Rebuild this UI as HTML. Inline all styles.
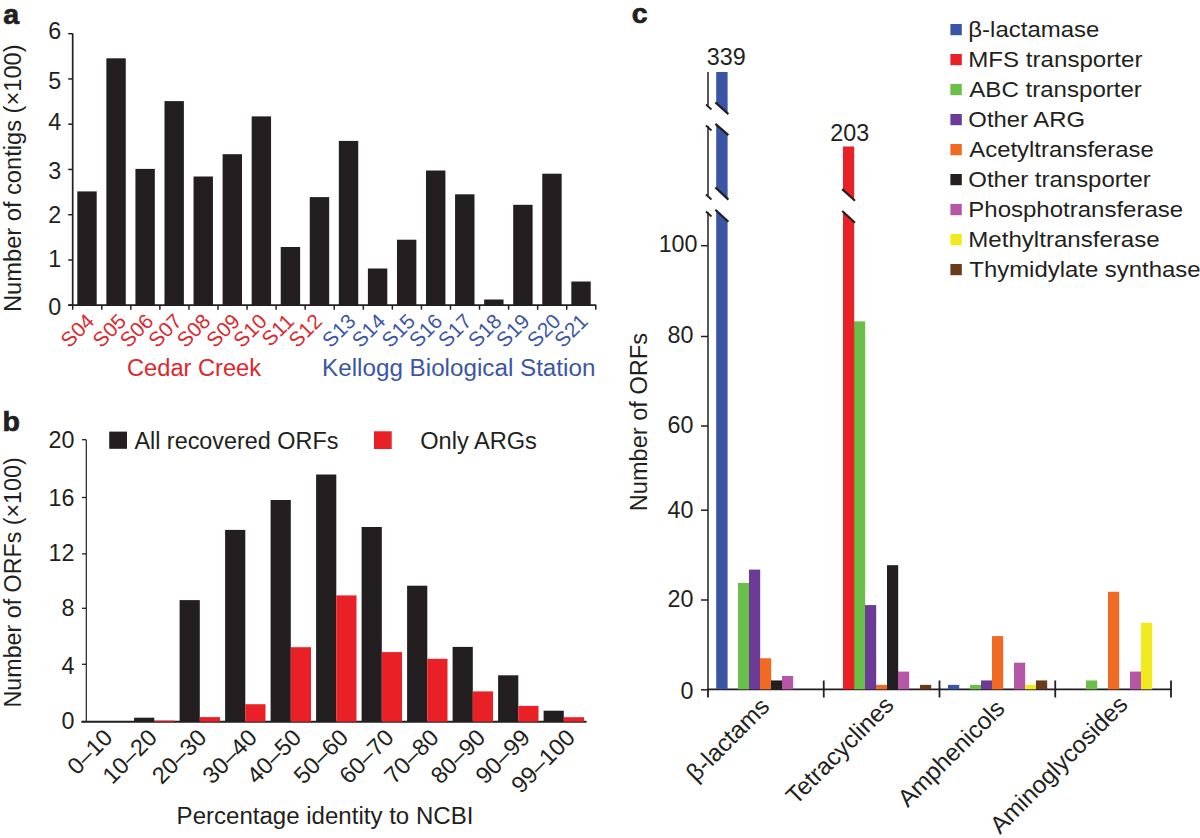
<!DOCTYPE html>
<html><head><meta charset="utf-8"><style>
html,body{margin:0;padding:0;background:#fff;}
svg{display:block;}
text{font-family:"Liberation Sans",sans-serif;}
</style></head><body>
<svg width="1200" height="838" viewBox="0 0 1200 838">
<rect width="1200" height="838" fill="#fff"/>
<text x="3.20" y="24.00" font-size="28.5" text-anchor="start" fill="#231f20" font-weight="bold" stroke="#231f20" stroke-width="0.7">a</text>
<line x1="72.70" y1="33.60" x2="72.70" y2="306.00" stroke="#231f20" stroke-width="1.7"/>
<line x1="68.20" y1="305.20" x2="72.70" y2="305.20" stroke="#231f20" stroke-width="1.5"/>
<text x="61.20" y="314.90" font-size="23.3" text-anchor="end" fill="#231f20">0</text>
<line x1="68.20" y1="259.95" x2="72.70" y2="259.95" stroke="#231f20" stroke-width="1.5"/>
<text x="61.20" y="267.05" font-size="23.3" text-anchor="end" fill="#231f20">1</text>
<line x1="68.20" y1="214.70" x2="72.70" y2="214.70" stroke="#231f20" stroke-width="1.5"/>
<text x="61.20" y="223.00" font-size="23.3" text-anchor="end" fill="#231f20">2</text>
<line x1="68.20" y1="169.45" x2="72.70" y2="169.45" stroke="#231f20" stroke-width="1.5"/>
<text x="61.20" y="179.15" font-size="23.3" text-anchor="end" fill="#231f20">3</text>
<line x1="68.20" y1="124.20" x2="72.70" y2="124.20" stroke="#231f20" stroke-width="1.5"/>
<text x="61.20" y="130.30" font-size="23.3" text-anchor="end" fill="#231f20">4</text>
<line x1="68.20" y1="78.95" x2="72.70" y2="78.95" stroke="#231f20" stroke-width="1.5"/>
<text x="61.20" y="88.85" font-size="23.3" text-anchor="end" fill="#231f20">5</text>
<line x1="68.20" y1="33.70" x2="72.70" y2="33.70" stroke="#231f20" stroke-width="1.5"/>
<text x="61.20" y="38.80" font-size="23.3" text-anchor="end" fill="#231f20">6</text>
<line x1="68.30" y1="305.20" x2="596.30" y2="305.20" stroke="#231f20" stroke-width="1.7"/>
<line x1="72.70" y1="305.20" x2="72.70" y2="309.70" stroke="#231f20" stroke-width="1.5"/>
<line x1="101.76" y1="305.20" x2="101.76" y2="309.70" stroke="#231f20" stroke-width="1.5"/>
<line x1="130.82" y1="305.20" x2="130.82" y2="309.70" stroke="#231f20" stroke-width="1.5"/>
<line x1="159.88" y1="305.20" x2="159.88" y2="309.70" stroke="#231f20" stroke-width="1.5"/>
<line x1="188.94" y1="305.20" x2="188.94" y2="309.70" stroke="#231f20" stroke-width="1.5"/>
<line x1="218.00" y1="305.20" x2="218.00" y2="309.70" stroke="#231f20" stroke-width="1.5"/>
<line x1="247.06" y1="305.20" x2="247.06" y2="309.70" stroke="#231f20" stroke-width="1.5"/>
<line x1="276.12" y1="305.20" x2="276.12" y2="309.70" stroke="#231f20" stroke-width="1.5"/>
<line x1="305.18" y1="305.20" x2="305.18" y2="309.70" stroke="#231f20" stroke-width="1.5"/>
<line x1="334.24" y1="305.20" x2="334.24" y2="309.70" stroke="#231f20" stroke-width="1.5"/>
<line x1="363.30" y1="305.20" x2="363.30" y2="309.70" stroke="#231f20" stroke-width="1.5"/>
<line x1="392.36" y1="305.20" x2="392.36" y2="309.70" stroke="#231f20" stroke-width="1.5"/>
<line x1="421.42" y1="305.20" x2="421.42" y2="309.70" stroke="#231f20" stroke-width="1.5"/>
<line x1="450.48" y1="305.20" x2="450.48" y2="309.70" stroke="#231f20" stroke-width="1.5"/>
<line x1="479.54" y1="305.20" x2="479.54" y2="309.70" stroke="#231f20" stroke-width="1.5"/>
<line x1="508.60" y1="305.20" x2="508.60" y2="309.70" stroke="#231f20" stroke-width="1.5"/>
<line x1="537.66" y1="305.20" x2="537.66" y2="309.70" stroke="#231f20" stroke-width="1.5"/>
<line x1="566.72" y1="305.20" x2="566.72" y2="309.70" stroke="#231f20" stroke-width="1.5"/>
<line x1="595.78" y1="305.20" x2="595.78" y2="309.70" stroke="#231f20" stroke-width="1.5"/>
<rect x="77.30" y="191.40" width="19.40" height="113.80" fill="#231f20"/>
<rect x="106.36" y="58.30" width="19.40" height="246.90" fill="#231f20"/>
<rect x="135.42" y="168.90" width="19.40" height="136.30" fill="#231f20"/>
<rect x="164.48" y="101.10" width="19.40" height="204.10" fill="#231f20"/>
<rect x="193.54" y="176.50" width="19.40" height="128.70" fill="#231f20"/>
<rect x="222.60" y="154.20" width="19.40" height="151.00" fill="#231f20"/>
<rect x="251.66" y="116.40" width="19.40" height="188.80" fill="#231f20"/>
<rect x="280.72" y="247.00" width="19.40" height="58.20" fill="#231f20"/>
<rect x="309.78" y="197.10" width="19.40" height="108.10" fill="#231f20"/>
<rect x="338.84" y="140.90" width="19.40" height="164.30" fill="#231f20"/>
<rect x="367.90" y="268.50" width="19.40" height="36.70" fill="#231f20"/>
<rect x="396.96" y="239.70" width="19.40" height="65.50" fill="#231f20"/>
<rect x="426.02" y="170.50" width="19.40" height="134.70" fill="#231f20"/>
<rect x="455.08" y="194.30" width="19.40" height="110.90" fill="#231f20"/>
<rect x="484.14" y="299.50" width="19.40" height="5.70" fill="#231f20"/>
<rect x="513.20" y="204.80" width="19.40" height="100.40" fill="#231f20"/>
<rect x="542.26" y="173.70" width="19.40" height="131.50" fill="#231f20"/>
<rect x="571.32" y="281.50" width="19.40" height="23.70" fill="#231f20"/>
<text x="95.50" y="322.49" font-size="20.8" text-anchor="end" fill="#dc282e" transform="rotate(-45 95.50 322.49)">S04</text>
<text x="127.56" y="322.49" font-size="20.8" text-anchor="end" fill="#dc282e" transform="rotate(-45 127.56 322.49)">S05</text>
<text x="154.62" y="322.49" font-size="20.8" text-anchor="end" fill="#dc282e" transform="rotate(-45 154.62 322.49)">S06</text>
<text x="183.08" y="322.49" font-size="20.8" text-anchor="end" fill="#dc282e" transform="rotate(-45 183.08 322.49)">S07</text>
<text x="211.74" y="322.49" font-size="20.8" text-anchor="end" fill="#dc282e" transform="rotate(-45 211.74 322.49)">S08</text>
<text x="241.20" y="322.49" font-size="20.8" text-anchor="end" fill="#dc282e" transform="rotate(-45 241.20 322.49)">S09</text>
<text x="268.26" y="322.49" font-size="20.8" text-anchor="end" fill="#dc282e" transform="rotate(-45 268.26 322.49)">S10</text>
<text x="295.32" y="322.49" font-size="20.8" text-anchor="end" fill="#dc282e" transform="rotate(-45 295.32 322.49)">S11</text>
<text x="323.38" y="322.49" font-size="20.8" text-anchor="end" fill="#dc282e" transform="rotate(-45 323.38 322.49)">S12</text>
<text x="357.04" y="322.49" font-size="20.8" text-anchor="end" fill="#3b56a5" transform="rotate(-45 357.04 322.49)">S13</text>
<text x="386.70" y="322.49" font-size="20.8" text-anchor="end" fill="#3b56a5" transform="rotate(-45 386.70 322.49)">S14</text>
<text x="416.56" y="322.49" font-size="20.8" text-anchor="end" fill="#3b56a5" transform="rotate(-45 416.56 322.49)">S15</text>
<text x="443.82" y="322.49" font-size="20.8" text-anchor="end" fill="#3b56a5" transform="rotate(-45 443.82 322.49)">S16</text>
<text x="472.88" y="322.49" font-size="20.8" text-anchor="end" fill="#3b56a5" transform="rotate(-45 472.88 322.49)">S17</text>
<text x="502.94" y="322.49" font-size="20.8" text-anchor="end" fill="#3b56a5" transform="rotate(-45 502.94 322.49)">S18</text>
<text x="531.00" y="322.49" font-size="20.8" text-anchor="end" fill="#3b56a5" transform="rotate(-45 531.00 322.49)">S19</text>
<text x="562.06" y="322.49" font-size="20.8" text-anchor="end" fill="#3b56a5" transform="rotate(-45 562.06 322.49)">S20</text>
<text x="589.12" y="322.49" font-size="20.8" text-anchor="end" fill="#3b56a5" transform="rotate(-45 589.12 322.49)">S21</text>
<text x="127.00" y="376.00" font-size="23.3" text-anchor="start" fill="#dc282e" textLength="134.09" lengthAdjust="spacingAndGlyphs">Cedar Creek</text>
<text x="322.10" y="375.80" font-size="23.3" text-anchor="start" fill="#3b56a5" textLength="273.30" lengthAdjust="spacingAndGlyphs">Kellogg Biological Station</text>
<text x="20.80" y="178.20" font-size="23.3" text-anchor="middle" fill="#231f20" transform="rotate(-90 20.80 178.20)" textLength="267.55" lengthAdjust="spacingAndGlyphs">Number of contigs (×100)</text>
<text x="2.60" y="431.30" font-size="28.5" text-anchor="start" fill="#231f20" font-weight="bold" stroke="#231f20" stroke-width="0.7">b</text>
<line x1="86.30" y1="439.70" x2="86.30" y2="721.70" stroke="#231f20" stroke-width="1.2"/>
<line x1="82.00" y1="439.70" x2="86.30" y2="439.70" stroke="#231f20" stroke-width="1.3"/>
<text x="74.40" y="448.40" font-size="23.3" text-anchor="end" fill="#231f20">20</text>
<line x1="82.00" y1="497.50" x2="86.30" y2="497.50" stroke="#231f20" stroke-width="1.3"/>
<text x="74.40" y="505.80" font-size="23.3" text-anchor="end" fill="#231f20">16</text>
<line x1="82.00" y1="553.90" x2="86.30" y2="553.90" stroke="#231f20" stroke-width="1.3"/>
<text x="74.40" y="561.40" font-size="23.3" text-anchor="end" fill="#231f20">12</text>
<line x1="82.00" y1="608.30" x2="86.30" y2="608.30" stroke="#231f20" stroke-width="1.3"/>
<text x="74.40" y="616.40" font-size="23.3" text-anchor="end" fill="#231f20">8</text>
<line x1="82.00" y1="664.30" x2="86.30" y2="664.30" stroke="#231f20" stroke-width="1.3"/>
<text x="74.40" y="673.80" font-size="23.3" text-anchor="end" fill="#231f20">4</text>
<line x1="82.00" y1="721.60" x2="86.30" y2="721.60" stroke="#231f20" stroke-width="1.3"/>
<text x="74.40" y="729.10" font-size="23.3" text-anchor="end" fill="#231f20">0</text>
<line x1="81.40" y1="721.70" x2="586.50" y2="721.70" stroke="#231f20" stroke-width="2.0"/>
<rect x="134.10" y="717.70" width="20.20" height="4.00" fill="#231f20"/>
<rect x="154.30" y="720.60" width="20.20" height="1.10" fill="#e92127"/>
<rect x="179.60" y="600.10" width="20.20" height="121.60" fill="#231f20"/>
<rect x="199.80" y="717.10" width="20.20" height="4.60" fill="#e92127"/>
<rect x="225.10" y="529.90" width="20.20" height="191.80" fill="#231f20"/>
<rect x="245.30" y="704.20" width="20.20" height="17.50" fill="#e92127"/>
<rect x="270.60" y="500.00" width="20.20" height="221.70" fill="#231f20"/>
<rect x="290.80" y="647.20" width="20.20" height="74.50" fill="#e92127"/>
<rect x="316.10" y="474.50" width="20.20" height="247.20" fill="#231f20"/>
<rect x="336.30" y="595.40" width="20.20" height="126.30" fill="#e92127"/>
<rect x="361.60" y="527.00" width="20.20" height="194.70" fill="#231f20"/>
<rect x="381.80" y="652.10" width="20.20" height="69.60" fill="#e92127"/>
<rect x="407.10" y="585.70" width="20.20" height="136.00" fill="#231f20"/>
<rect x="427.30" y="658.80" width="20.20" height="62.90" fill="#e92127"/>
<rect x="452.60" y="646.90" width="20.20" height="74.80" fill="#231f20"/>
<rect x="472.80" y="691.40" width="20.20" height="30.30" fill="#e92127"/>
<rect x="498.10" y="675.30" width="20.20" height="46.40" fill="#231f20"/>
<rect x="518.30" y="705.90" width="20.20" height="15.80" fill="#e92127"/>
<rect x="543.60" y="710.70" width="20.20" height="11.00" fill="#231f20"/>
<rect x="563.80" y="717.20" width="20.20" height="4.50" fill="#e92127"/>
<text x="114.00" y="739.00" font-size="23.5" text-anchor="end" fill="#231f20" transform="rotate(-45 114.00 739.00)">0–10</text>
<text x="158.40" y="739.00" font-size="23.5" text-anchor="end" fill="#231f20" transform="rotate(-45 158.40 739.00)">10–20</text>
<text x="208.00" y="739.00" font-size="23.5" text-anchor="end" fill="#231f20" transform="rotate(-45 208.00 739.00)">20–30</text>
<text x="258.50" y="739.00" font-size="23.5" text-anchor="end" fill="#231f20" transform="rotate(-45 258.50 739.00)">30–40</text>
<text x="302.70" y="739.00" font-size="23.5" text-anchor="end" fill="#231f20" transform="rotate(-45 302.70 739.00)">40–50</text>
<text x="349.70" y="739.00" font-size="23.5" text-anchor="end" fill="#231f20" transform="rotate(-45 349.70 739.00)">50–60</text>
<text x="395.20" y="739.00" font-size="23.5" text-anchor="end" fill="#231f20" transform="rotate(-45 395.20 739.00)">60–70</text>
<text x="440.20" y="739.00" font-size="23.5" text-anchor="end" fill="#231f20" transform="rotate(-45 440.20 739.00)">70–80</text>
<text x="486.70" y="739.00" font-size="23.5" text-anchor="end" fill="#231f20" transform="rotate(-45 486.70 739.00)">80–90</text>
<text x="531.45" y="739.00" font-size="23.5" text-anchor="end" fill="#231f20" transform="rotate(-45 531.45 739.00)">90–99</text>
<text x="576.45" y="739.00" font-size="23.5" text-anchor="end" fill="#231f20" transform="rotate(-45 576.45 739.00)">99–100</text>
<rect x="109.20" y="431.60" width="17.80" height="17.20" fill="#231f20"/>
<text x="134.40" y="448.60" font-size="23.3" text-anchor="start" fill="#231f20" textLength="203.97" lengthAdjust="spacingAndGlyphs">All recovered ORFs</text>
<rect x="374.00" y="431.30" width="17.70" height="17.70" fill="#e92127"/>
<text x="420.20" y="448.80" font-size="23.3" text-anchor="start" fill="#231f20" textLength="116.75" lengthAdjust="spacingAndGlyphs">Only ARGs</text>
<text x="176.60" y="823.50" font-size="23.3" text-anchor="start" fill="#231f20" textLength="296.76" lengthAdjust="spacingAndGlyphs">Percentage identity to NCBI</text>
<text x="21.20" y="582.40" font-size="23.3" text-anchor="middle" fill="#231f20" transform="rotate(-90 21.20 582.40)" textLength="250.13" lengthAdjust="spacingAndGlyphs">Number of ORFs (×100)</text>
<text x="631.70" y="22.70" font-size="28.5" text-anchor="start" fill="#231f20" font-weight="bold" stroke="#231f20" stroke-width="0.7">c</text>
<line x1="708.00" y1="71.90" x2="708.00" y2="105.50" stroke="#231f20" stroke-width="1.5"/>
<line x1="708.00" y1="126.00" x2="708.00" y2="195.50" stroke="#231f20" stroke-width="1.5"/>
<line x1="708.00" y1="212.00" x2="708.00" y2="690.00" stroke="#231f20" stroke-width="1.5"/>
<line x1="701.00" y1="245.70" x2="708.00" y2="245.70" stroke="#231f20" stroke-width="1.5"/>
<text x="697.50" y="252.40" font-size="23.3" text-anchor="end" fill="#231f20">100</text>
<line x1="701.00" y1="336.50" x2="708.00" y2="336.50" stroke="#231f20" stroke-width="1.5"/>
<text x="693.50" y="342.80" font-size="23.3" text-anchor="end" fill="#231f20">80</text>
<line x1="701.00" y1="426.00" x2="708.00" y2="426.00" stroke="#231f20" stroke-width="1.5"/>
<text x="693.50" y="432.70" font-size="23.3" text-anchor="end" fill="#231f20">60</text>
<line x1="701.00" y1="510.20" x2="708.00" y2="510.20" stroke="#231f20" stroke-width="1.5"/>
<text x="693.50" y="517.70" font-size="23.3" text-anchor="end" fill="#231f20">40</text>
<line x1="701.00" y1="600.00" x2="708.00" y2="600.00" stroke="#231f20" stroke-width="1.5"/>
<text x="693.50" y="607.10" font-size="23.3" text-anchor="end" fill="#231f20">20</text>
<line x1="701.00" y1="689.80" x2="708.00" y2="689.80" stroke="#231f20" stroke-width="1.5"/>
<text x="693.50" y="698.70" font-size="23.3" text-anchor="end" fill="#231f20">0</text>
<line x1="707.30" y1="689.30" x2="1171.90" y2="689.30" stroke="#231f20" stroke-width="1.8"/>
<line x1="708.00" y1="689.30" x2="708.00" y2="697.50" stroke="#231f20" stroke-width="1.8"/>
<line x1="823.75" y1="680.50" x2="823.75" y2="697.50" stroke="#231f20" stroke-width="1.8"/>
<line x1="939.50" y1="680.50" x2="939.50" y2="697.50" stroke="#231f20" stroke-width="1.8"/>
<line x1="1055.25" y1="680.50" x2="1055.25" y2="697.50" stroke="#231f20" stroke-width="1.8"/>
<line x1="1171.00" y1="680.50" x2="1171.00" y2="697.50" stroke="#231f20" stroke-width="1.8"/>
<rect x="738.00" y="582.91" width="11.20" height="106.39" fill="#6cbe4a"/>
<rect x="749.00" y="569.61" width="11.20" height="119.69" fill="#6b3b97"/>
<rect x="760.00" y="658.27" width="11.20" height="31.03" fill="#f06a23"/>
<rect x="771.00" y="680.43" width="11.20" height="8.87" fill="#231f20"/>
<rect x="782.00" y="676.00" width="11.20" height="13.30" fill="#b656a6"/>
<rect x="854.00" y="321.36" width="11.20" height="367.94" fill="#6cbe4a"/>
<rect x="865.00" y="605.07" width="11.20" height="84.23" fill="#6b3b97"/>
<rect x="876.00" y="684.87" width="11.20" height="4.43" fill="#f06a23"/>
<rect x="887.00" y="565.18" width="11.20" height="124.12" fill="#231f20"/>
<rect x="898.00" y="671.57" width="11.20" height="17.73" fill="#b656a6"/>
<rect x="920.00" y="684.87" width="11.20" height="4.43" fill="#6b3a1a"/>
<rect x="948.00" y="684.87" width="11.20" height="4.43" fill="#3a55a5"/>
<rect x="970.00" y="684.87" width="11.20" height="4.43" fill="#6cbe4a"/>
<rect x="981.00" y="680.43" width="11.20" height="8.87" fill="#6b3b97"/>
<rect x="992.00" y="636.10" width="11.20" height="53.20" fill="#f06a23"/>
<rect x="1014.00" y="662.70" width="11.20" height="26.60" fill="#b656a6"/>
<rect x="1025.00" y="684.87" width="11.20" height="4.43" fill="#f2ea1f"/>
<rect x="1036.00" y="680.43" width="11.20" height="8.87" fill="#6b3a1a"/>
<rect x="1086.00" y="680.43" width="11.20" height="8.87" fill="#6cbe4a"/>
<rect x="1108.00" y="591.77" width="11.20" height="97.53" fill="#f06a23"/>
<rect x="1130.00" y="671.57" width="11.20" height="17.73" fill="#b656a6"/>
<rect x="1141.00" y="622.80" width="11.20" height="66.50" fill="#f2ea1f"/>
<polygon points="716.20,72.00 727.60,72.00 727.60,113.50 716.20,103.00" fill="#3a55a5"/>
<line x1="715.40" y1="102.40" x2="728.40" y2="114.10" stroke="#231f20" stroke-width="2.2"/>
<polygon points="716.20,124.50 727.60,134.50 727.60,199.00 716.20,188.00" fill="#3a55a5"/>
<line x1="715.40" y1="123.90" x2="728.40" y2="135.10" stroke="#231f20" stroke-width="2.2"/>
<line x1="715.40" y1="187.40" x2="728.40" y2="199.60" stroke="#231f20" stroke-width="2.2"/>
<polygon points="716.20,210.30 727.60,221.20 727.60,689.30 716.20,689.30" fill="#3a55a5"/>
<line x1="715.40" y1="209.70" x2="728.40" y2="221.80" stroke="#231f20" stroke-width="2.2"/>
<polygon points="843.00,146.40 854.20,146.40 854.20,200.20 843.00,189.70" fill="#e92127"/>
<line x1="842.20" y1="189.10" x2="855.00" y2="200.80" stroke="#231f20" stroke-width="2.2"/>
<polygon points="843.00,211.60 854.20,222.10 854.20,689.30 843.00,689.30" fill="#e92127"/>
<line x1="842.20" y1="211.00" x2="855.00" y2="222.70" stroke="#231f20" stroke-width="2.2"/>
<line x1="706.00" y1="104.50" x2="711.50" y2="109.50" stroke="#231f20" stroke-width="1.8"/>
<line x1="706.00" y1="194.50" x2="711.50" y2="199.50" stroke="#231f20" stroke-width="1.8"/>
<line x1="706.00" y1="125.50" x2="711.50" y2="130.50" stroke="#231f20" stroke-width="1.8"/>
<line x1="706.00" y1="211.50" x2="711.50" y2="216.50" stroke="#231f20" stroke-width="1.8"/>
<text x="726.20" y="65.00" font-size="23.3" text-anchor="middle" fill="#231f20">339</text>
<text x="849.80" y="140.60" font-size="23.3" text-anchor="middle" fill="#231f20">203</text>
<rect x="950.40" y="24.00" width="11.40" height="11.20" fill="#3a55a5"/>
<text x="968.30" y="37.00" font-size="22.7" text-anchor="start" fill="#231f20" textLength="131.07" lengthAdjust="spacingAndGlyphs">β-lactamase</text>
<rect x="950.40" y="54.00" width="11.40" height="11.20" fill="#e92127"/>
<text x="968.30" y="67.00" font-size="22.7" text-anchor="start" fill="#231f20" textLength="174.13" lengthAdjust="spacingAndGlyphs">MFS transporter</text>
<rect x="950.40" y="84.00" width="11.40" height="11.20" fill="#6cbe4a"/>
<text x="969.30" y="97.00" font-size="22.7" text-anchor="start" fill="#231f20" textLength="172.61" lengthAdjust="spacingAndGlyphs">ABC transporter</text>
<rect x="950.40" y="114.00" width="11.40" height="11.20" fill="#6b3b97"/>
<text x="968.30" y="127.00" font-size="22.7" text-anchor="start" fill="#231f20" textLength="116.87" lengthAdjust="spacingAndGlyphs">Other ARG</text>
<rect x="950.40" y="144.00" width="11.40" height="11.20" fill="#f06a23"/>
<text x="969.30" y="157.00" font-size="22.7" text-anchor="start" fill="#231f20" textLength="184.45" lengthAdjust="spacingAndGlyphs">Acetyltransferase</text>
<rect x="950.40" y="174.00" width="11.40" height="11.20" fill="#231f20"/>
<text x="968.30" y="187.00" font-size="22.7" text-anchor="start" fill="#231f20" textLength="182.39" lengthAdjust="spacingAndGlyphs">Other transporter</text>
<rect x="950.40" y="204.00" width="11.40" height="11.20" fill="#b656a6"/>
<text x="968.30" y="217.00" font-size="22.7" text-anchor="start" fill="#231f20" textLength="214.88" lengthAdjust="spacingAndGlyphs">Phosphotransferase</text>
<rect x="950.40" y="234.00" width="11.40" height="11.20" fill="#f2ea1f"/>
<text x="968.30" y="247.00" font-size="22.7" text-anchor="start" fill="#231f20" textLength="191.37" lengthAdjust="spacingAndGlyphs">Methyltransferase</text>
<rect x="950.40" y="264.00" width="11.40" height="11.20" fill="#6b3a1a"/>
<text x="969.30" y="277.00" font-size="22.7" text-anchor="start" fill="#231f20" textLength="231.30" lengthAdjust="spacingAndGlyphs">Thymidylate synthase</text>
<text x="770.80" y="708.00" font-size="24.3" text-anchor="end" fill="#231f20" transform="rotate(-45 770.80 708.00)">β-lactams</text>
<text x="895.20" y="706.40" font-size="24.3" text-anchor="end" fill="#231f20" transform="rotate(-45 895.20 706.40)">Tetracyclines</text>
<text x="1006.20" y="710.00" font-size="24.3" text-anchor="end" fill="#231f20" transform="rotate(-45 1006.20 710.00)">Amphenicols</text>
<text x="1129.00" y="706.00" font-size="24.3" text-anchor="end" fill="#231f20" transform="rotate(-45 1129.00 706.00)">Aminoglycosides</text>
<text x="646.70" y="422.10" font-size="23.3" text-anchor="middle" fill="#231f20" transform="rotate(-90 646.70 422.10)" textLength="178.09" lengthAdjust="spacingAndGlyphs">Number of ORFs</text>
</svg>
</body></html>
